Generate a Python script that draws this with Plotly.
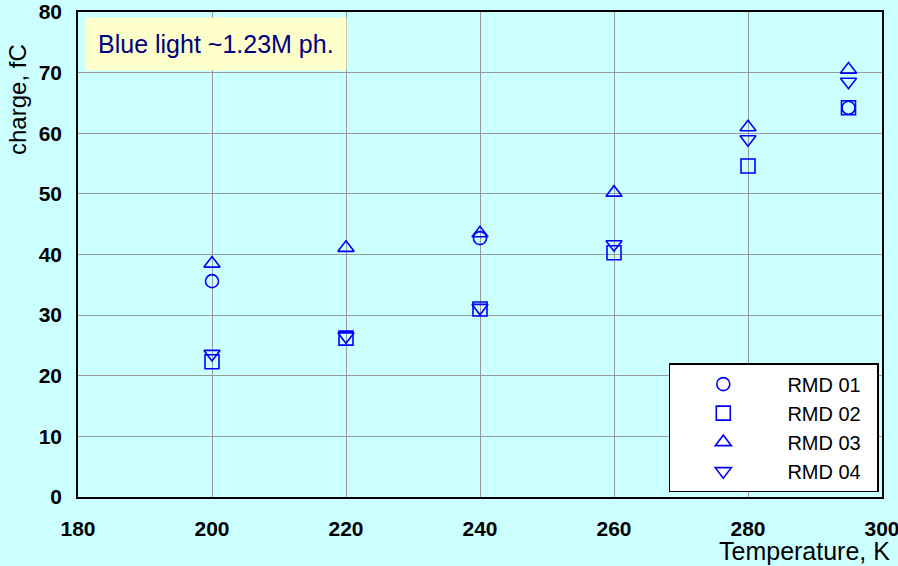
import plotly.graph_objects as go

temps_01 = [200, 240, 295]
rmd01 = [35.6, 42.7, 64.2]
temps = [200, 220, 240, 260, 280, 295]
rmd02 = [22.3, 26.2, 31.0, 40.3, 54.6, 64.2]
rmd03 = [38.5, 41.1, 43.5, 50.2, 61.0, 70.5]
rmd04 = [23.6, 26.5, 31.2, 41.7, 59.0, 68.5]

x_ticks = [180, 200, 220, 240, 260, 280, 300]
y_ticks = [0, 10, 20, 30, 40, 50, 60, 70, 80]

BLUE = "#0000FF"
FONT = "Liberation Sans, Arial, sans-serif"
pre = "\u00a0" * 2
post = "\u00a0" * 2

fig = go.Figure()
series = [
    ("RMD 01", temps_01, rmd01, "circle-open", 13),
    ("RMD 02", temps, rmd02, "square-open", 14),
    ("RMD 03", temps, rmd03, "triangle-up-open", 14),
    ("RMD 04", temps, rmd04, "triangle-down-open", 14),
]
for name, xs, ys, sym, sz in series:
    fig.add_trace(go.Scatter(
        x=xs, y=ys, mode="markers", name=pre + name + post,
        marker=dict(symbol=sym, size=sz, color=BLUE, line=dict(width=1.6, color=BLUE)),
    ))

fig.update_layout(
    width=898, height=566,
    paper_bgcolor="#CCFFFF", plot_bgcolor="#CCFFFF",
    margin=dict(l=78, r=16, t=12, b=69, autoexpand=False),
    font=dict(family=FONT, color="black"),
    showlegend=True,
    legend=dict(
        x=0.996, y=0.01, xanchor="right", yanchor="bottom",
        bgcolor="white", bordercolor="black", borderwidth=1.5,
        font=dict(size=20, family=FONT, color="black"),
        tracegroupgap=0, itemwidth=96,
    ),
)
fig.update_xaxes(
    range=[180, 300], tickvals=x_ticks, ticktext=[str(v) for v in x_ticks],
    showgrid=True, gridcolor="#999999", gridwidth=1.2,
    showline=True, linecolor="black", linewidth=1.5, mirror=True,
    ticks="", zeroline=False, ticklabelstandoff=12, automargin=False,
    ticklabeloverflow="allow",
    tickfont=dict(size=21, family=FONT, color="black", weight="bold"),
)
fig.update_yaxes(
    range=[0, 80], tickvals=y_ticks, ticktext=[str(v) for v in y_ticks],
    showgrid=True, gridcolor="#999999", gridwidth=1.2,
    showline=True, linecolor="black", linewidth=1.5, mirror=True,
    ticks="", zeroline=False, ticklabelstandoff=10, automargin=False,
    ticklabeloverflow="allow",
    tickfont=dict(size=21, family=FONT, color="black", weight="bold"),
)
fig.add_annotation(
    text="Blue light ~1.23M ph.", xref="paper", yref="paper",
    x=0.009, y=0.99, xanchor="left", yanchor="top", showarrow=False,
    bgcolor="#FFFFCC", borderpad=12,
    font=dict(size=25, family=FONT, color="#000080"),
)
fig.add_annotation(
    text="charge, fC", xref="paper", yref="paper",
    x=-0.075, y=0.82, xanchor="center", yanchor="middle", textangle=-90,
    showarrow=False, font=dict(size=24, family=FONT, color="black"),
)
fig.add_annotation(
    text="Temperature, K", xref="paper", yref="paper",
    x=1.012, y=-0.079, xanchor="right", yanchor="top",
    showarrow=False, font=dict(size=25, family=FONT, color="black"),
)
fig.write_html(
    "out.html",
    config={"displayModeBar": False},
    post_script="document.body.style.margin='0';document.body.style.background='#CCFFFF';document.body.style.overflow='hidden';",
)
